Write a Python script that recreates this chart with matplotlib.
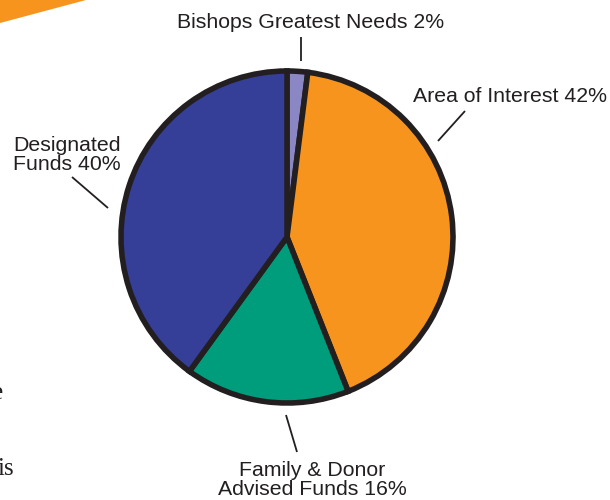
import matplotlib.pyplot as plt
from matplotlib.patches import Polygon

# slice data, clockwise from the top
labels = ["Bishops Greatest Needs 2%", "Area of Interest 42%",
          "Family & Donor\nAdvised Funds 16%", "Designated\nFunds 40%"]
shares = [2, 42, 16, 40]
colors = ["#8B87C5", "#F7941E", "#009D7C", "#363F98"]

W, H = 610, 500
fig = plt.figure(figsize=(W / 100, H / 100), dpi=100)
ax = fig.add_axes([0, 0, 1, 1])

def py(y):
    # pixel row (from top) -> data y
    return H - y

cx, cy, r = 287, 237, 166
ax.pie(shares, colors=colors, center=(cx, py(cy)), radius=r,
       startangle=90, counterclock=False, frame=True,
       wedgeprops=dict(edgecolor="#231F20", linewidth=4.0, joinstyle="miter"))
ax.set_xlim(0, W)
ax.set_ylim(0, H)
ax.set_aspect("equal")
ax.axis("off")

# leader lines (pixel coordinates)
leaders = [((301, 37), (301, 61)),
           ((465, 111), (438, 141)),
           ((297, 452), (286, 415)),
           ((72, 177), (108, 208))]
for (x0, y0), (x1, y1) in leaders:
    ax.plot([x0, x1], [py(y0), py(y1)], color="#231F20", lw=1.3,
            solid_capstyle="butt")

font = dict(family="Liberation Sans", fontsize=15.3, color="#231F20")
ax.text(311, py(22), labels[0], ha="center", va="center", **font)
ax.text(510, py(96), labels[1], ha="center", va="center", **font)
ax.text(312, py(480), labels[2], ha="center", va="center",
        linespacing=0.95, **font)
ax.text(67, py(155), labels[3], ha="center", va="center",
        linespacing=0.95, **font)

# orange page decoration at top-left
ax.add_patch(Polygon([(0, py(0)), (86, py(0)), (0, py(23))],
                     closed=True, color="#F7941E", lw=0))

# clipped body text at the left edge of the page
serif = dict(family="Liberation Serif", fontsize=18, color="#231F20")
ax.text(3, py(399), "e", ha="right", va="baseline", **serif)
ax.text(14, py(475), "is", ha="right", va="baseline", **serif)

fig.savefig("out.png", dpi=100)
